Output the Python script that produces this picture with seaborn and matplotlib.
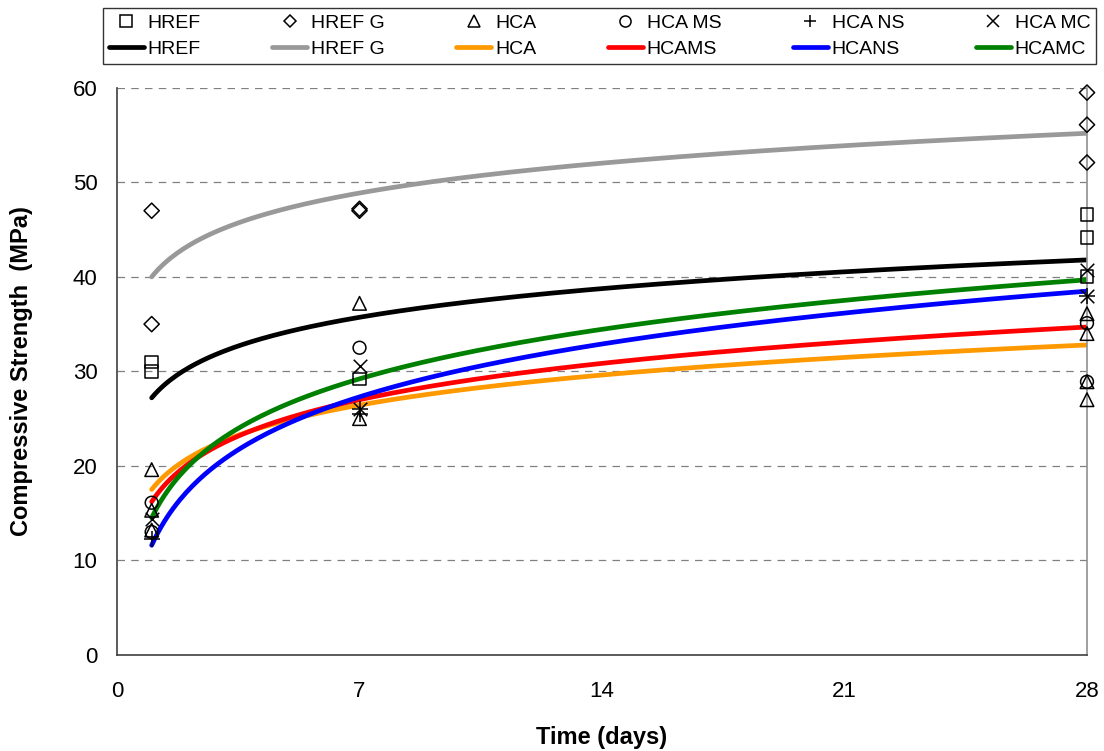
import numpy as np
import pandas as pd
import matplotlib
matplotlib.use("Agg")
import matplotlib.pyplot as plt
from matplotlib.lines import Line2D
import seaborn as sns

# =======================
# DATA
# =======================

mixes = ['HREF', 'HREF G', 'HCA', 'HCA MS', 'HCA NS', 'HCA MC']
fit_labels = ['HREF', 'HREF G', 'HCA', 'HCAMS', 'HCANS', 'HCAMC']

# measured points: (day, strength)
href_days = [1, 1, 7, 28, 28, 28]
href_vals = [31.0, 30.0, 29.2, 46.6, 44.2, 40.0]

hrefg_days = [1, 1, 7, 7, 28, 28, 28]
hrefg_vals = [47.0, 35.0, 47.2, 47.0, 59.5, 56.1, 52.1]

hca_days = [1, 1, 1, 7, 7, 28, 28, 28, 28]
hca_vals = [19.6, 15.3, 13.2, 37.2, 25.0, 36.1, 34.0, 28.9, 27.0]

hcams_days = [1, 1, 7, 28, 28]
hcams_vals = [16.1, 13.0, 32.5, 35.1, 28.9]

hcans_days = [1, 7, 7, 28]
hcans_vals = [12.3, 26.0, 25.5, 38.0]

hcamc_days = [1, 7, 7, 28, 28]
hcamc_vals = [14.4, 30.6, 26.0, 40.7, 38.0]

# logarithmic trend lines: y = slope * ln(t) + intercept
fit_slope = [4.38, 4.56, 4.59, 5.55, 8.07, 7.56]
fit_intercept = [27.2, 40.0, 17.5, 16.2, 11.6, 14.5]

fit_colors = ['#000000', '#999999', '#FF9900', '#FF0000', '#0000FF', '#008000']
markers = ['s', 'D', '^', 'o', '+', 'x']
marker_sizes = [85, 60, 95, 85, 120, 95]

point_days = [href_days, hrefg_days, hca_days, hcams_days, hcans_days, hcamc_days]
point_vals = [href_vals, hrefg_vals, hca_vals, hcams_vals, hcans_vals, hcamc_vals]

# =======================
# FIGURE
# =======================

sns.set_style('white')
plt.rcParams['font.family'] = ['Liberation Sans', 'DejaVu Sans']
plt.rcParams['text.color'] = 'black'
plt.rcParams['axes.labelcolor'] = 'black'
plt.rcParams['xtick.color'] = 'black'
plt.rcParams['ytick.color'] = 'black'

fig = plt.figure(figsize=(11.04, 7.51), dpi=100)
ax = fig.add_axes([0.106, 0.128, 0.8786, 0.755])

t = np.linspace(1, 28, 300)
for lab, a, b, c in zip(fit_labels, fit_slope, fit_intercept, fit_colors):
    sns.lineplot(x=t, y=a * np.log(t) + b, color=c, lw=3.4, ax=ax,
                 estimator=None, zorder=2)

for d, v, m, s in zip(point_days, point_vals, markers, marker_sizes):
    if m in ['+', 'x']:
        sns.scatterplot(x=d, y=v, marker=m, s=s, color='k', linewidth=1.1,
                        ax=ax, zorder=3, clip_on=False)
    else:
        sns.scatterplot(x=d, y=v, marker=m, s=s, facecolor='none',
                        edgecolor='k', linewidth=1.1, ax=ax, zorder=3,
                        clip_on=False)

ax.set_xlim(0, 28)
ax.set_ylim(0, 60)
ax.set_xticks([0, 7, 14, 21, 28])
ax.set_yticks(range(0, 61, 10))
ax.tick_params(axis='both', direction='out', length=6, width=1,
               color='#404040', labelsize=16, pad=8)
ax.tick_params(axis='x', pad=13)

for y in range(10, 61, 10):
    ax.axhline(y, color='#808080', lw=0.9, ls=(0, (6, 5)), zorder=1)

ax.spines['top'].set_visible(False)
ax.spines['right'].set_color('#909090')
ax.spines['right'].set_linewidth(1.2)
ax.spines['left'].set_color('#404040')
ax.spines['bottom'].set_color('#404040')
ax.spines['left'].set_linewidth(1.2)
ax.spines['bottom'].set_linewidth(1.2)

ax.set_xlabel('Time (days)', fontsize=17, fontweight='bold', va='center')
ax.set_ylabel('Compressive Strength  (MPa)', fontsize=17, fontweight='bold',
              va='center')
ax.xaxis.set_label_coords(0.5, -0.145)
ax.yaxis.set_label_coords(-0.098, 0.5)

# legend: markers on the first row, fitted lines on the second
handles = []
labels = []
for lab, m, fl, c in zip(mixes, markers, fit_labels, fit_colors):
    if m in ['+', 'x']:
        handles.append(Line2D([], [], ls='none', marker=m, color='k',
                              markersize=9, markeredgewidth=1.1))
    else:
        handles.append(Line2D([], [], ls='none', marker=m, markerfacecolor='none',
                              markeredgecolor='k', markersize=8 if m != 'D' else 6.5,
                              markeredgewidth=1.1))
    labels.append(lab)
    handles.append(Line2D([], [], color=c, lw=3.4))
    labels.append(fl)

leg = fig.legend(handles, labels, ncol=6, loc='center',
                 bbox_to_anchor=(0.093, 0.917, 0.9, 0.07), mode='expand',
                 fontsize=14, frameon=True, fancybox=False, edgecolor='k',
                 handlelength=1.8, handletextpad=0.2, columnspacing=1.0,
                 labelspacing=0.45, borderpad=0.3, borderaxespad=0)
leg.get_frame().set_linewidth(1.0)

fig.savefig('out.png', dpi=100)
